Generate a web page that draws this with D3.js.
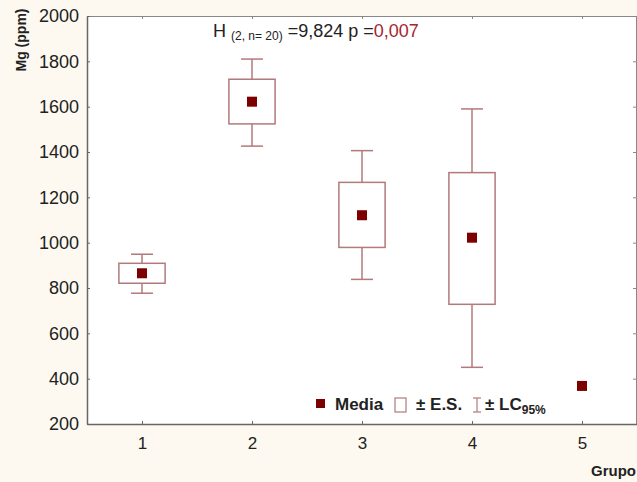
<!DOCTYPE html>
<html>
<head>
<meta charset="utf-8">
<script src="https://cdn.jsdelivr.net/npm/d3@7"></script>
<style>
  html, body { margin: 0; padding: 0; background: #fdf9f0; }
  svg { display: block; font-family: "Liberation Sans", Arial, sans-serif; }
</style>
</head>
<body>
<div id="chart"></div>
<script>
// data
const groups = [1, 2, 3, 4, 5];
const means = [865, 1622, 1121, 1022, 368];
const seLow = [821, 1524, 979, 728, null];
const seHigh = [909, 1721, 1266, 1309, null];
const ciLow = [777, 1426, 838, 450, null];
const ciHigh = [949, 1810, 1406, 1590, null];
const yTicks = [200, 400, 600, 800, 1000, 1200, 1400, 1600, 1800, 2000];

const width = 637, height = 482;
const margin = {top: 16, right: 0, bottom: 58, left: 87};
const boxColor = "#b27a7a";
const meanColor = "#7d0000";
const axisColor = "#666";

const svg = d3.select("#chart").append("svg")
    .attr("width", width)
    .attr("height", height);

svg.append("rect")
    .attr("width", width).attr("height", height)
    .attr("fill", "#fdf9f0");

const x = d3.scaleLinear()
    .domain([0.5, 5.5])
    .range([margin.left, width - margin.right]);

const y = d3.scaleLinear()
    .domain([200, 2000])
    .range([height - margin.bottom, margin.top]);

// plot area
svg.append("rect")
    .attr("x", x(0.5)).attr("y", y(2000))
    .attr("width", x(5.5) - x(0.5)).attr("height", y(200) - y(2000))
    .attr("fill", "#fff");

// frame: top and right
svg.append("g")
    .attr("transform", `translate(0,${y(2000)})`)
    .call(d3.axisTop(x).tickValues(groups).tickSize(-3).tickFormat(""))
    .call(g => g.selectAll("line, path").attr("stroke", "#888"));
svg.append("g")
    .attr("transform", `translate(${width - 1},0)`)
    .call(d3.axisRight(y).tickValues(yTicks).tickSize(-3).tickFormat(""))
    .call(g => g.selectAll("line, path").attr("stroke", "#888"));

// bottom axis
svg.append("g")
    .attr("transform", `translate(0,${y(200)})`)
    .call(d3.axisBottom(x).tickValues(groups).tickSize(-3).tickSizeOuter(0).tickPadding(13).tickFormat(d3.format("d")))
    .call(g => g.select(".domain").attr("stroke", axisColor).attr("stroke-width", 1.5))
    .call(g => g.selectAll("line").attr("stroke", axisColor))
    .call(g => g.selectAll("text").attr("fill", "#222").style("font-size", "17px"));

// left axis
svg.append("g")
    .attr("transform", `translate(${x(0.5)},0)`)
    .call(d3.axisLeft(y).tickValues(yTicks).tickSize(-3).tickSizeOuter(0).tickPadding(8).tickFormat(d3.format("d")))
    .call(g => g.select(".domain").attr("stroke", axisColor).attr("stroke-width", 1.5))
    .call(g => g.selectAll("line").attr("stroke", axisColor))
    .call(g => g.selectAll("text").attr("fill", "#222").style("font-size", "18px"));

// axis titles
svg.append("text")
    .attr("transform", `translate(26,40) rotate(-90)`)
    .attr("text-anchor", "middle")
    .style("font-size", "14px").style("font-weight", "bold")
    .attr("fill", "#222")
    .text("Mg (ppm)");

svg.append("text")
    .attr("x", 636).attr("y", 476)
    .attr("text-anchor", "end")
    .style("font-size", "15px").style("font-weight", "bold")
    .attr("fill", "#222")
    .text("Grupo");

// statistics header
const head = svg.append("text")
    .attr("x", 213).attr("y", 37)
    .style("font-size", "18px")
    .attr("fill", "#222");
head.append("tspan").text("H ");
head.append("tspan").style("font-size", "12px").attr("dy", 3).text("(2, n= 20)");
head.append("tspan").attr("dy", -3).text(" =9,824 p =");
head.append("tspan").attr("fill", "#a8252f").text("0,007");

// boxes and whiskers
const boxW = 0.42, capW = 0.2;
const rows = groups.map((g, i) => ({g, mean: means[i], lo: seLow[i], hi: seHigh[i], cl: ciLow[i], ch: ciHigh[i]}));
const full = rows.filter(d => d.lo != null);

const gBox = svg.append("g").attr("stroke", boxColor).attr("stroke-width", 1.5).attr("fill", "none");
gBox.selectAll(".wh").data(full).join("line")
    .attr("x1", d => x(d.g)).attr("x2", d => x(d.g))
    .attr("y1", d => y(d.ch)).attr("y2", d => y(d.cl));
gBox.selectAll(".capH").data(full).join("line")
    .attr("x1", d => x(d.g - capW / 2)).attr("x2", d => x(d.g + capW / 2))
    .attr("y1", d => y(d.ch)).attr("y2", d => y(d.ch));
gBox.selectAll(".capL").data(full).join("line")
    .attr("x1", d => x(d.g - capW / 2)).attr("x2", d => x(d.g + capW / 2))
    .attr("y1", d => y(d.cl)).attr("y2", d => y(d.cl));
gBox.selectAll("rect").data(full).join("rect")
    .attr("x", d => x(d.g - boxW / 2))
    .attr("width", x(boxW) - x(0))
    .attr("y", d => y(d.hi))
    .attr("height", d => y(d.lo) - y(d.hi))
    .attr("fill", "#fff");

svg.append("g").selectAll("rect").data(rows).join("rect")
    .attr("x", d => x(d.g) - 5).attr("y", d => y(d.mean) - 5)
    .attr("width", 10).attr("height", 10)
    .attr("fill", meanColor);

// legend
const lg = svg.append("g").attr("transform", "translate(0,410)")
    .style("font-size", "17px").style("font-weight", "bold").attr("fill", "#222");
lg.append("rect").attr("x", 316).attr("y", -11).attr("width", 9).attr("height", 9).attr("fill", meanColor);
lg.append("text").attr("x", 335).text("Media");
lg.append("rect").attr("x", 395).attr("y", -12).attr("width", 11).attr("height", 14)
    .attr("fill", "#fff").attr("stroke", boxColor).attr("stroke-width", 1.2);
lg.append("text").attr("x", 416).text("± E.S.");
const wl = lg.append("g").attr("stroke", boxColor).attr("stroke-width", 1.2);
wl.append("line").attr("x1", 477).attr("x2", 477).attr("y1", -12).attr("y2", 2);
wl.append("line").attr("x1", 473).attr("x2", 481).attr("y1", -12).attr("y2", -12);
wl.append("line").attr("x1", 473).attr("x2", 481).attr("y1", 2).attr("y2", 2);
const lc = lg.append("text").attr("x", 485);
lc.append("tspan").text("± LC");
lc.append("tspan").style("font-size", "12px").attr("dy", 4).text("95%");
</script>
</body>
</html>
